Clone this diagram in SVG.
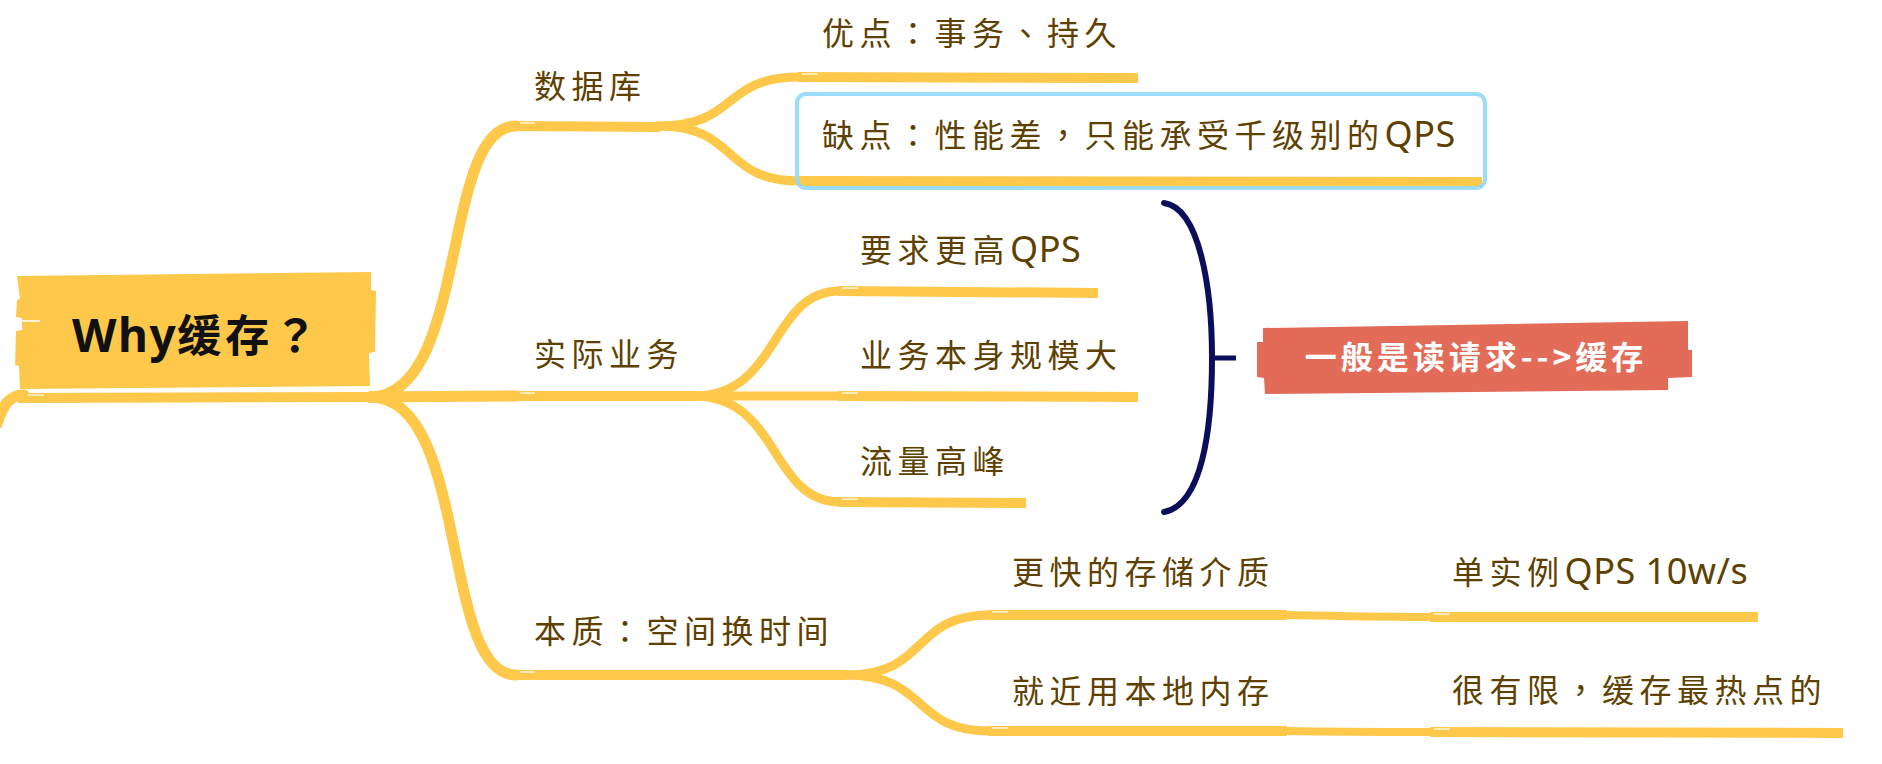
<svg xmlns="http://www.w3.org/2000/svg" width="1882" height="764" viewBox="0 0 1882 764">
<style>
.br{fill:none;stroke:#FEC84A;stroke-linecap:round;stroke-linejoin:round}
.ul{fill:none;stroke:#FEC84A;stroke-width:10;stroke-linecap:butt}
.hl{stroke:#ffffff;stroke-width:1.5;opacity:0.8}
.t{font-family:"Noto Sans CJK SC","Noto Sans",sans-serif;font-size:32px;letter-spacing:5.5px;fill:#5e4100}
.p{font-family:"Noto Sans CJK TC","Noto Sans CJK SC",sans-serif}
.l{font-family:"Noto Sans","Noto Sans CJK SC",sans-serif;font-size:36px;letter-spacing:0.5px}
</style>
<rect width="1882" height="764" fill="#ffffff"/>
<g id="connectors">
  <path class="br" stroke-width="11" d="M-3,424 C3,404 10,395 24,395"/>
  <path class="br" stroke-width="11" d="M370,397 C470,396 440,126 516,126"/>
  <path class="br" stroke-width="11" d="M370,397 L516,396"/>
  <path class="br" stroke-width="11" d="M370,397 C470,396 440,675 516,675"/>
  <path class="br" stroke-width="9" d="M658,126 C740,126 720,77 800,77"/>
  <path class="br" stroke-width="9" d="M658,126 C740,126 720,181 800,181"/>
  <path class="br" stroke-width="9" d="M694,396 C780,396 770,291 840,291"/>
  <path class="br" stroke-width="9" d="M694,396 L840,396"/>
  <path class="br" stroke-width="9" d="M694,396 C780,396 770,502 840,502"/>
  <path class="br" stroke-width="9" d="M846,675 C930,675 910,615 990,615"/>
  <path class="br" stroke-width="9" d="M846,675 C930,675 910,731 990,731"/>
  <path class="br" stroke-width="8" d="M1287,615 C1340,616 1380,617 1432,617"/>
  <path class="br" stroke-width="8" d="M1287,731 C1340,732 1380,732 1432,732"/>
</g>
<g id="root">
  <polygon fill="#FEC84A" points="17,276 371,272 371,290 376,291 375,352 369,353 370,386 20,389 19,366 15,365 16,331 22,330 22,318 16,317 17,300 20,299"/>
  <line x1="22" y1="321" x2="40" y2="321" stroke="#ffffff" stroke-width="1.5"/>
  <path class="ul" stroke-width="13" d="M18,398 L372,397"/>
  <line class="hl" x1="28" y1="395" x2="44" y2="395"/>
  <text x="72" y="352" font-family="'Noto Sans CJK SC','Noto Sans',sans-serif" font-weight="bold" fill="#111111"><tspan font-family="'Noto Sans','Noto Sans CJK SC',sans-serif" font-size="46" letter-spacing="1.5">Why</tspan><tspan font-size="44" letter-spacing="4">缓存</tspan><tspan font-family="'Noto Sans CJK TC','Noto Sans CJK SC',sans-serif" font-size="44">？</tspan></text>
</g>
<g id="n-db">
  <path class="ul" d="M514,126 L660,127"/>
  <line class="hl" x1="520" y1="123" x2="535" y2="123"/>
  <text class="t" x="534" y="98">数据库</text>
</g>
<g id="n-pro">
  <path class="ul" d="M798,77 L1138,78"/>
  <line class="hl" x1="802" y1="74" x2="818" y2="74"/>
  <text class="t" x="822" y="45">优点<tspan class="p">：</tspan>事务<tspan class="p">、</tspan>持久</text>
</g>
<g id="n-con">
  <path class="ul" d="M798,181 L1482,182"/>
  <rect x="797" y="94" width="688" height="94" rx="9" fill="none" stroke="#8fd8f8" stroke-width="4" opacity="0.9"/>
  <text class="t" x="822" y="147">缺点<tspan class="p">：</tspan>性能差<tspan class="p">，</tspan>只能承受千级别的<tspan class="l">QPS</tspan></text>
</g>
<g id="n-biz">
  <path class="ul" d="M514,396 L694,396"/>
  <line class="hl" x1="520" y1="393" x2="535" y2="393"/>
  <text class="t" x="534" y="366">实际业务</text>
</g>
<g id="n-qps">
  <path class="ul" d="M838,291 L1098,293"/>
  <line class="hl" x1="842" y1="288" x2="858" y2="288"/>
  <text class="t" x="860" y="262">要求更高<tspan class="l">QPS</tspan></text>
</g>
<g id="n-scale">
  <path class="ul" d="M838,396 L1138,397"/>
  <line class="hl" x1="842" y1="393" x2="858" y2="393"/>
  <text class="t" x="860" y="367">业务本身规模大</text>
</g>
<g id="n-peak">
  <path class="ul" d="M838,502 L1026,503"/>
  <line class="hl" x1="842" y1="499" x2="858" y2="499"/>
  <text class="t" x="860" y="473">流量高峰</text>
</g>
<g id="n-brace">
  <path d="M1164,203 C1200,208 1212,290 1212,358 C1212,430 1202,505 1164,512" fill="none" stroke="#0b0f5a" stroke-width="6" stroke-linecap="round"/>
  <line x1="1212" y1="358" x2="1236" y2="358" stroke="#0b0f5a" stroke-width="5"/>
</g>
<g id="n-summary">
  <polygon fill="#E36C58" points="1263,328 1688,321 1688,350 1692,350 1692,377 1668,378 1668,390 1265,394 1264,378 1257,377 1257,342 1263,342"/>
  <text x="1476" y="369" text-anchor="middle" font-family="'Noto Sans CJK SC','Noto Sans',sans-serif" font-size="32" font-weight="bold" letter-spacing="4" fill="#ffffff">一般是读请求--&gt;缓存</text>
</g>
<g id="n-essence">
  <path class="ul" d="M514,675 L846,675"/>
  <line class="hl" x1="520" y1="672" x2="535" y2="672"/>
  <text class="t" x="534" y="643">本质<tspan class="p">：</tspan>空间换时间</text>
</g>
<g id="n-faster">
  <path class="ul" d="M988,615 L1287,615"/>
  <line class="hl" x1="992" y1="612" x2="1008" y2="612"/>
  <text class="t" x="1012" y="584">更快的存储介质</text>
</g>
<g id="n-single">
  <path class="ul" d="M1430,617 L1758,617"/>
  <line class="hl" x1="1434" y1="614" x2="1450" y2="614"/>
  <text class="t" x="1452" y="584">单实例<tspan class="l" letter-spacing="0">QPS 10w/s</tspan></text>
</g>
<g id="n-local">
  <path class="ul" d="M988,731 L1287,731"/>
  <line class="hl" x1="992" y1="728" x2="1008" y2="728"/>
  <text class="t" x="1012" y="703">就近用本地内存</text>
</g>
<g id="n-limited">
  <path class="ul" d="M1430,732 L1843,733"/>
  <line class="hl" x1="1434" y1="729" x2="1450" y2="729"/>
  <text class="t" x="1452" y="702">很有限<tspan class="p">，</tspan>缓存最热点的</text>
</g>
</svg>
